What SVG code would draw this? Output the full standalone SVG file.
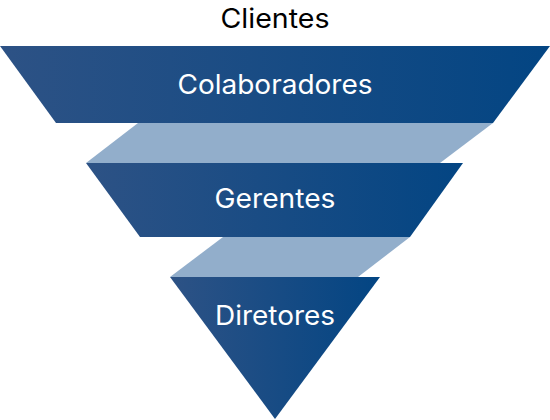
<svg xmlns="http://www.w3.org/2000/svg" width="550" height="420" viewBox="0 0 550 420">
<defs>
<linearGradient id="g1" gradientUnits="userSpaceOnUse" x1="0" y1="0" x2="550" y2="0"><stop offset="0" stop-color="#2d5285"/><stop offset="1" stop-color="#034583"/></linearGradient>
<linearGradient id="g2" gradientUnits="userSpaceOnUse" x1="86" y1="0" x2="463" y2="0"><stop offset="0" stop-color="#2d5285"/><stop offset="1" stop-color="#034583"/></linearGradient>
<linearGradient id="g3" gradientUnits="userSpaceOnUse" x1="170" y1="0" x2="380" y2="0"><stop offset="0" stop-color="#2d5285"/><stop offset="1" stop-color="#034583"/></linearGradient>
<style>
.t{font-family:Inter,"Noto Sans",sans-serif;font-size:27px;text-anchor:middle}
.lbl{fill:#ffffff}
.band{fill:#92aecb}
</style>
</defs>
<rect width="550" height="420" fill="#ffffff"/>
<g id="connectors">
<polygon class="band" points="138,123 493,123 440,163 86,163"/>
<polygon class="band" points="223,237 410,237 358,277 170,277"/>
</g>
<g id="clientes">
<text class="t" x="275" y="28" fill="#000000" textLength="109" lengthAdjust="spacingAndGlyphs">Clientes</text>
</g>
<g id="colaboradores">
<polygon points="0,46 550,46 493,123 56,123" fill="url(#g1)"/>
<text class="t lbl" x="275" y="94" textLength="195" lengthAdjust="spacingAndGlyphs">Colaboradores</text>
</g>
<g id="gerentes">
<polygon points="86,163 463,163 410,237 140,237" fill="url(#g2)"/>
<text class="t lbl" x="275" y="208" textLength="121" lengthAdjust="spacingAndGlyphs">Gerentes</text>
</g>
<g id="diretores">
<polygon points="170,277 380,277 275,419" fill="url(#g3)"/>
<text class="t lbl" x="275" y="325" textLength="120" lengthAdjust="spacingAndGlyphs">Diretores</text>
</g>
</svg>
